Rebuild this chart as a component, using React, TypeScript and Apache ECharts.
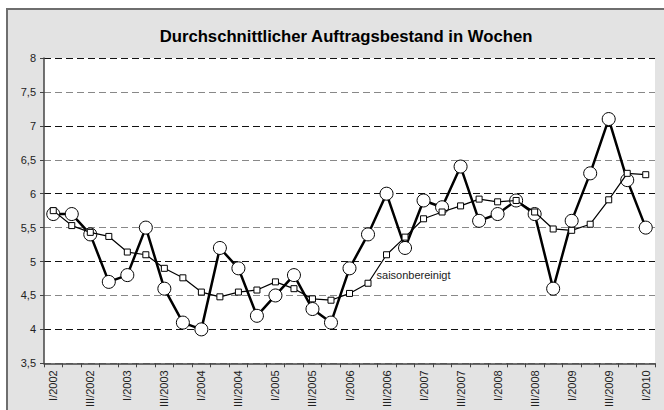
import React, { useEffect, useRef } from "react";
import * as echarts from "echarts";

const quarters: string[] = [];
const years = [2002, 2003, 2004, 2005, 2006, 2007, 2008, 2009];
const romans = ["I", "II", "III", "IV"];
for (const y of years) for (const r of romans) quarters.push(`${r}/${y}`);
quarters.push("I/2010");

const original = [
  5.7, 5.7, 5.4, 4.7, 4.8, 5.5, 4.6, 4.1, 4.0, 5.2, 4.9, 4.2, 4.5, 4.8, 4.3, 4.1,
  4.9, 5.4, 6.0, 5.2, 5.9, 5.8, 6.4, 5.6, 5.7, 5.9, 5.7, 4.6, 5.6, 6.3, 7.1, 6.2, 5.5,
];
const seasonal = [
  5.75, 5.53, 5.43, 5.37, 5.14, 5.1, 4.9, 4.76, 4.55, 4.48, 4.55, 4.58, 4.7, 4.6, 4.45, 4.43,
  4.53, 4.68, 5.1, 5.36, 5.63, 5.73, 5.82, 5.92, 5.88, 5.9, 5.73, 5.48, 5.46, 5.55, 5.91, 6.3, 6.28,
];
const seasonalLabelIndex = 17;
const seasonalLabel = "saisonbereinigt";
const titleText = "Durchschnittlicher Auftragsbestand in Wochen";

export default function App() {
  const ref = useRef<HTMLDivElement>(null);
  useEffect(() => {
    if (!ref.current) return;
    const chart = echarts.init(ref.current, undefined, { renderer: "svg" });
    const font = "'Liberation Sans', Arial, sans-serif";
    chart.setOption({
      animation: false,
      textStyle: { fontFamily: font },
      graphic: [
        {
          type: "rect",
          z: -10,
          shape: { x: 7, y: 9, width: 670, height: 420 },
          style: { fill: "#e3e3e3", stroke: "#6e6e6e", lineWidth: 2 },
        },
        {
          type: "rect",
          z: -9,
          shape: { x: 44, y: 58, width: 611, height: 306 },
          style: { fill: "#ffffff" },
        },
      ],
      title: {
        text: titleText,
        left: 341,
        top: 23,
        textAlign: "center",
        textStyle: { fontSize: 16.7, fontWeight: "bold", color: "#000", fontFamily: font },
      },
      grid: { left: 44, right: 9, top: 58, bottom: 46 },
      xAxis: {
        type: "category",
        data: quarters,
        boundaryGap: true,
        axisLine: { lineStyle: { color: "#444", width: 1.5 } },
        axisTick: { show: true, interval: 0, length: 4, lineStyle: { color: "#444" } },
        axisLabel: {
          interval: 1,
          rotate: 90,
          fontSize: 11,
          color: "#222",
          margin: 7,
          fontFamily: font,
        },
        splitLine: { show: false },
      },
      yAxis: {
        type: "value",
        min: 3.5,
        max: 8,
        interval: 0.5,
        axisLine: { show: true, lineStyle: { color: "#444", width: 1.5 } },
        axisTick: { show: true, length: 4, lineStyle: { color: "#444" } },
        axisLabel: {
          fontSize: 11,
          color: "#222",
          margin: 8,
          fontFamily: font,
          formatter: (v: number) => String(v).replace(".", ","),
        },
        splitLine: {
          show: true,
          lineStyle: { color: ["#888", "#111"], type: [7, 4], width: 1 },
        },
      },
      series: [
        {
          type: "line",
          data: original,
          symbol: "circle",
          symbolSize: 13,
          showSymbol: true,
          showAllSymbol: true,
          lineStyle: { color: "#000", width: 2.5 },
          itemStyle: { color: "#fff", borderColor: "#000", borderWidth: 1 },
          z: 2,
        },
        {
          type: "line",
          data: seasonal.map((v, i) =>
            i === seasonalLabelIndex
              ? {
                  value: v,
                  label: {
                    show: true,
                    position: "right",
                    offset: [0, -8],
                    formatter: seasonalLabel,
                    fontSize: 11,
                    color: "#222",
                    fontFamily: font,
                  },
                }
              : v
          ),
          symbol: "rect",
          symbolSize: 6,
          showSymbol: true,
          showAllSymbol: true,
          lineStyle: { color: "#000", width: 1.2 },
          itemStyle: { color: "#fff", borderColor: "#000", borderWidth: 1 },
          z: 3,
        },
      ],
    });
    return () => chart.dispose();
  }, []);
  return (
    <div
      ref={ref}
      style={{ position: "fixed", left: 0, top: 0, width: 664, height: 410, background: "#fff" }}
    />
  );
}
